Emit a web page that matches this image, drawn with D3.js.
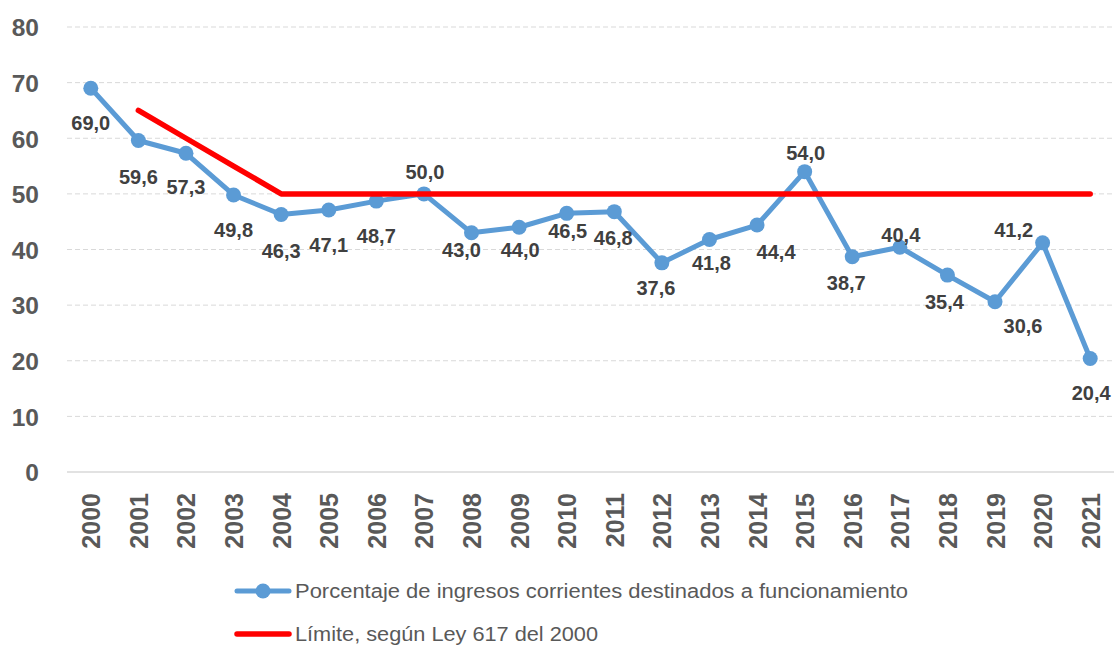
<!DOCTYPE html>
<html>
<head>
<meta charset="utf-8">
<script src="https://cdn.jsdelivr.net/npm/d3@7"></script>
<style>
  html, body { margin: 0; padding: 0; background: #fff; }
  svg { display: block; font-family: "Liberation Sans", Arial, sans-serif; }
</style>
</head>
<body>
<div id="chart"></div>
<script>
// data
const years = ['2000','2001','2002','2003','2004','2005','2006','2007','2008','2009','2010',
               '2011','2012','2013','2014','2015','2016','2017','2018','2019','2020','2021'];
const porcentaje = [69.0, 59.6, 57.3, 49.8, 46.3, 47.1, 48.7, 50.0, 43.0, 44.0, 46.5,
                    46.8, 37.6, 41.8, 44.4, 54.0, 38.7, 40.4, 35.4, 30.6, 41.2, 20.4];
const limiteYears = ['2001','2002','2003','2004','2005','2006','2007','2008','2009','2010','2011',
                     '2012','2013','2014','2015','2016','2017','2018','2019','2020','2021'];
const limite = [65, 60, 55, 50, 50, 50, 50, 50, 50, 50, 50, 50, 50, 50, 50, 50, 50, 50, 50, 50, 50];
const yTicks = [0, 10, 20, 30, 40, 50, 60, 70, 80];
const seriesNames = ['Porcentaje de ingresos corrientes destinados a funcionamiento',
                     'Límite, según Ley 617 del 2000'];

// where each value label sits relative to its point (dx, dy of text centre)
const labelOffsets = [[0,35],[0,36],[0,34],[0,35],[0,36],[0,35],[0,35],[1,-22],[-10,17],[1,23],[1,17],
                      [-1,26],[-6,25],[2,23],[19,27],[1,-19],[-6,26],[1,-12],[-3,27],[28,24],[-29,-13],[1,34]];

const width = 1114, height = 645;
const blue = '#5B9BD5', red = '#FF0000';

const svg = d3.select('#chart').append('svg')
  .attr('width', width)
  .attr('height', height);

const x = d3.scalePoint().domain(years).range([67, 1114]).padding(0.5);
const y = d3.scaleLinear().domain([0, 80]).range([472, 27]);

// gridlines
svg.append('g')
  .selectAll('line')
  .data(yTicks.filter(d => d > 0))
  .join('line')
  .attr('x1', 67).attr('x2', 1114)
  .attr('y1', d => y(d)).attr('y2', d => y(d))
  .attr('stroke', '#d9d9d9')
  .attr('stroke-width', 1)
  .attr('stroke-dasharray', '5,3');

// y axis (labels only)
const yAxis = svg.append('g')
  .attr('transform', 'translate(39,0)')
  .call(d3.axisLeft(y).tickValues(yTicks).tickSize(0).tickPadding(0));
yAxis.select('.domain').remove();
yAxis.selectAll('text')
  .attr('font-family', '"Liberation Sans", Arial, sans-serif')
  .attr('font-size', 24.5)
  .attr('font-weight', 'bold')
  .attr('fill', '#595959')
  .attr('dy', '0.36em');

// x axis line
svg.append('line')
  .attr('x1', 67).attr('x2', 1114)
  .attr('y1', y(0)).attr('y2', y(0))
  .attr('stroke', '#d9d9d9')
  .attr('stroke-width', 1.5);

// x axis labels, rotated
const xAxis = svg.append('g')
  .attr('transform', `translate(0,${y(0)})`)
  .call(d3.axisBottom(x).tickSize(0).tickPadding(0));
xAxis.select('.domain').remove();
xAxis.selectAll('text')
  .attr('font-family', '"Liberation Sans", Arial, sans-serif')
  .attr('font-size', 25)
  .attr('font-weight', 'bold')
  .attr('fill', '#595959')
  .attr('text-anchor', 'end')
  .attr('transform', 'rotate(-90)')
  .attr('x', -21)
  .attr('y', 0)
  .attr('dy', '0.36em');

// blue series
const line = d3.line().x(d => x(d[0])).y(d => y(d[1]));
const bluePts = years.map((yr, i) => [yr, porcentaje[i]]);

svg.append('path')
  .datum(bluePts)
  .attr('d', line)
  .attr('fill', 'none')
  .attr('stroke', blue)
  .attr('stroke-width', 5)
  .attr('stroke-linejoin', 'round')
  .attr('stroke-linecap', 'round');

svg.append('g')
  .selectAll('circle')
  .data(bluePts)
  .join('circle')
  .attr('cx', d => x(d[0]))
  .attr('cy', d => y(d[1]))
  .attr('r', 7.5)
  .attr('fill', blue);

// red limit line on top
svg.append('path')
  .datum(limiteYears.map((yr, i) => [yr, limite[i]]))
  .attr('d', line)
  .attr('fill', 'none')
  .attr('stroke', red)
  .attr('stroke-width', 5.5)
  .attr('stroke-linejoin', 'round')
  .attr('stroke-linecap', 'round');

// value labels
svg.append('g')
  .selectAll('text')
  .data(bluePts)
  .join('text')
  .attr('x', (d, i) => x(d[0]) + labelOffsets[i][0])
  .attr('y', (d, i) => y(d[1]) + labelOffsets[i][1])
  .attr('dy', '0.36em')
  .attr('text-anchor', 'middle')
  .attr('font-size', 20)
  .attr('font-weight', 'bold')
  .attr('fill', '#404040')
  .text(d => d[1].toFixed(1).replace('.', ','));

// legend
const legend = svg.append('g');
const legendRows = [
  {name: seriesNames[0], color: blue, marker: true, y: 591, len: 613},
  {name: seriesNames[1], color: red, marker: false, y: 634, len: 303}
];
legendRows.forEach(r => {
  legend.append('line')
    .attr('x1', 237).attr('x2', 289)
    .attr('y1', r.y).attr('y2', r.y)
    .attr('stroke', r.color)
    .attr('stroke-width', r.marker ? 5 : 5.5)
    .attr('stroke-linecap', 'round');
  if (r.marker) {
    legend.append('circle')
      .attr('cx', 263).attr('cy', r.y).attr('r', 7.5)
      .attr('fill', r.color);
  }
  legend.append('text')
    .attr('x', 295)
    .attr('y', r.y + 6.5)
    .attr('font-size', 20)
    .attr('fill', '#595959')
    .attr('textLength', r.len)
    .attr('lengthAdjust', 'spacingAndGlyphs')
    .text(r.name);
});
</script>
</body>
</html>
